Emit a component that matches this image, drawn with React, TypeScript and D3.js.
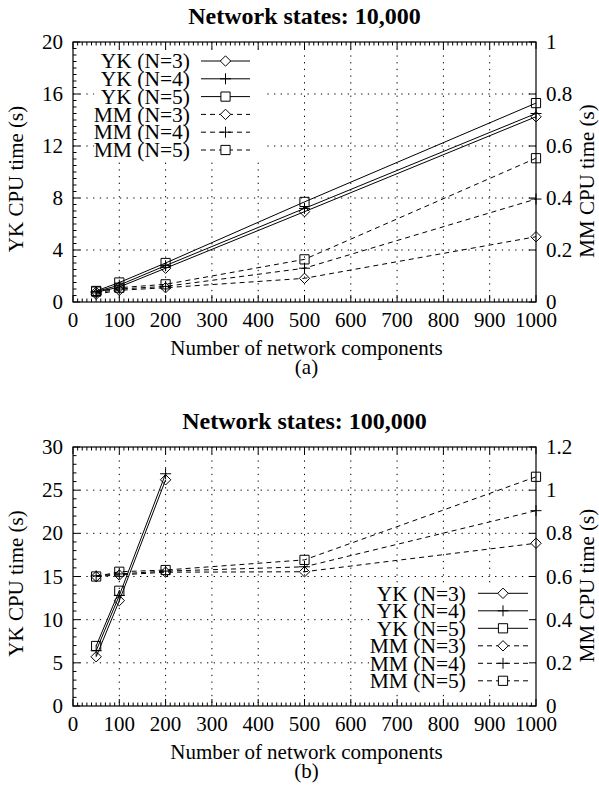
import * as d3 from 'd3'

// x positions (number of network components)
const COMPONENTS = [50, 100, 200, 500, 1000]

// Panel (a): network states 10,000
const A_YK3 = [0.75, 1.15, 2.6, 6.95, 14.25]
const A_YK4 = [0.8, 1.3, 2.8, 7.2, 14.5]
const A_YK5 = [0.85, 1.5, 3.0, 7.7, 15.3]
const A_MM3 = [0.03, 0.045, 0.055, 0.091, 0.251]
const A_MM4 = [0.035, 0.05, 0.06, 0.13, 0.396]
const A_MM5 = [0.04, 0.055, 0.068, 0.164, 0.553]

// Panel (b): network states 100,000 (YK stops early)
const B_YK3 = [5.7, 12.2, 26.2]
const B_YK4 = [6.4, 12.8, 26.9]
const B_YK5 = [6.95, 13.35]
const B_MM3 = [0.6, 0.607, 0.62, 0.622, 0.754]
const B_MM4 = [0.603, 0.612, 0.625, 0.645, 0.905]
const B_MM5 = [0.6, 0.622, 0.63, 0.677, 1.062]

const LEGEND_LABELS = ['YK (N=3)', 'YK (N=4)', 'YK (N=5)', 'MM (N=3)', 'MM (N=4)', 'MM (N=5)']
const MARKERS = ['diamond', 'plus', 'square', 'diamond', 'plus', 'square']

const FONT = '"Liberation Serif", "Times New Roman", serif'
const LEFT = 73
const RIGHT = 536
const FS = 21

function markerPath(kind, x, y) {
  if (kind === 'diamond') {
    const r = 5.2
    return `M${x},${y - r}L${x + r},${y}L${x},${y + r}L${x - r},${y}Z`
  }
  if (kind === 'plus') {
    const r = 5.5
    return `M${x - r},${y}L${x + r},${y}M${x},${y - r}L${x},${y + r}`
  }
  const r = 4.6
  return `M${x - r},${y - r}h${2 * r}v${2 * r}h${-2 * r}Z`
}

function Panel({ title, tag, top, bottom, yMax, yStep, yMinor, y2Max, y2Step, yk, mm, legend }) {
  const x = d3.scaleLinear().domain([0, 1000]).range([LEFT, RIGHT])
  const y = d3.scaleLinear().domain([0, yMax]).range([bottom, top])
  const y2 = d3.scaleLinear().domain([0, y2Max]).range([bottom, top])

  const xMajor = d3.range(0, 1001, 100)
  const xMinor = d3.range(0, 1001, 10)
  const yMajor = d3.range(0, yMax + 0.001, yStep)
  const yMinorTicks = d3.range(0, yMax + 0.001, yMinor)
  const y2Major = d3.range(0, y2Max + 0.001, y2Step)

  const line = (sy) => d3.line<number>().x((_, i) => x(COMPONENTS[i])).y(d => sy(d))
  const series = [
    ...yk.map(v => ({ vals: v, sy: y, dash: null })),
    ...mm.map(v => ({ vals: v, sy: y2, dash: '5,4' }))
  ]
  const fmt2 = (v) => String(+v.toFixed(1))
  const cy = (top + bottom) / 2

  return (
    <g>
      <text x={(LEFT + RIGHT) / 2} y={top - 18.5} textAnchor="middle" fontSize={24} fontWeight="bold">{title}</text>

      {/* grid */}
      {xMajor.filter(v => v > 0 && v < 1000).map(v => (
        <line key={'gx' + v} x1={x(v)} x2={x(v)} y1={top} y2={bottom} stroke="#000" strokeWidth={1} strokeDasharray="1.3,5.4" />
      ))}
      {yMajor.filter(v => v > 0 && v < yMax).map(v => (
        <line key={'gy' + v} x1={LEFT} x2={RIGHT} y1={y(v)} y2={y(v)} stroke="#000" strokeWidth={1} strokeDasharray="1.3,5.4" />
      ))}

      {/* opaque key background */}
      <rect x={legend.box[0]} y={legend.box[1]} width={legend.box[2]} height={legend.box[3]} fill="#fff" />

      {/* ticks */}
      {xMinor.map(v => {
        const major = v % 100 === 0
        const len = major ? 7 : 3.5
        return (
          <g key={'tx' + v}>
            <line x1={x(v)} x2={x(v)} y1={bottom} y2={bottom - len} stroke="#000" />
            <line x1={x(v)} x2={x(v)} y1={top} y2={top + len} stroke="#000" />
          </g>
        )
      })}
      {yMinorTicks.map(v => {
        const major = Math.abs(v / yStep - Math.round(v / yStep)) < 1e-6
        return <line key={'ty' + v} x1={LEFT} x2={LEFT + (major ? 7 : 3.5)} y1={y(v)} y2={y(v)} stroke="#000" />
      })}
      {y2Major.map(v => (
        <line key={'ty2' + v} x1={RIGHT} x2={RIGHT - 7} y1={y2(v)} y2={y2(v)} stroke="#000" />
      ))}

      {/* tick labels */}
      {xMajor.map(v => (
        <text key={'lx' + v} x={x(v)} y={bottom + 25} textAnchor="middle" fontSize={FS}>{v}</text>
      ))}
      {yMajor.map(v => (
        <text key={'ly' + v} x={LEFT - 10} y={y(v) + 7} textAnchor="end" fontSize={FS}>{v}</text>
      ))}
      {y2Major.map(v => (
        <text key={'ly2' + v} x={RIGHT + 10} y={y2(v) + 7} textAnchor="start" fontSize={FS}>{fmt2(v)}</text>
      ))}

      {/* axis titles */}
      <text transform={`translate(23,${cy + 7}) rotate(-90)`} textAnchor="middle" fontSize={FS}>YK CPU time (s)</text>
      <text transform={`translate(594,${cy + 9}) rotate(-90)`} textAnchor="middle" fontSize={FS}>MM CPU time (s)</text>
      <text x={(LEFT + RIGHT) / 2 + 2} y={bottom + 53} textAnchor="middle" fontSize={FS}>Number of network components</text>
      <text x={(LEFT + RIGHT) / 2 + 2} y={bottom + 72} textAnchor="middle" fontSize={FS}>{tag}</text>

      {/* data */}
      {series.map((s, i) => (
        <g key={'s' + i}>
          <path d={line(s.sy)(s.vals)} fill="none" stroke="#000" strokeWidth={1} strokeDasharray={s.dash || undefined} />
          {s.vals.map((v, j) => (
            <path key={j} d={markerPath(MARKERS[i], x(COMPONENTS[j]), s.sy(v))} fill="none" stroke="#000" strokeWidth={1} />
          ))}
        </g>
      ))}

      {/* key */}
      {LEGEND_LABELS.map((lab, i) => {
        const ry = legend.rowY + i * legend.step
        const mx = (legend.line[0] + legend.line[1]) / 2
        return (
          <g key={'k' + i}>
            <text x={legend.textRight} y={ry + 7.2} textAnchor="end" fontSize={21.5}>{lab}</text>
            <line x1={legend.line[0]} x2={legend.line[1]} y1={ry} y2={ry} stroke="#000" strokeDasharray={i >= 3 ? '5,4' : undefined} />
            <path d={markerPath(MARKERS[i], mx, ry)} fill="#fff" stroke="#000" />
          </g>
        )
      })}

      {/* border */}
      <rect x={LEFT} y={top} width={RIGHT - LEFT} height={bottom - top} fill="none" stroke="#000" strokeWidth={1.2} />
    </g>
  )
}

export default function App() {
  return (
    <svg width={599} height={788} style={{ position: 'absolute', left: 0, top: 0, background: '#fff' }} fontFamily={FONT}>
      <rect width={599} height={788} fill="#fff" />
      <Panel
        title="Network states: 10,000"
        tag="(a)"
        top={42}
        bottom={302}
        yMax={20}
        yStep={4}
        yMinor={0.5}
        y2Max={1}
        y2Step={0.2}
        yk={[A_YK3, A_YK4, A_YK5]}
        mm={[A_MM3, A_MM4, A_MM5]}
        legend={{ box: [94, 51, 168, 109], rowY: 61, step: 17.8, textRight: 190, line: [201, 250] }}
      />
      <Panel
        title="Network states: 100,000"
        tag="(b)"
        top={447}
        bottom={706}
        yMax={30}
        yStep={5}
        yMinor={1}
        y2Max={1.2}
        y2Step={0.2}
        yk={[B_YK3, B_YK4, B_YK5]}
        mm={[B_MM3, B_MM4, B_MM5]}
        legend={{ box: [369, 583, 165, 110], rowY: 593.3, step: 17.5, textRight: 466, line: [478, 528] }}
      />
    </svg>
  )
}
